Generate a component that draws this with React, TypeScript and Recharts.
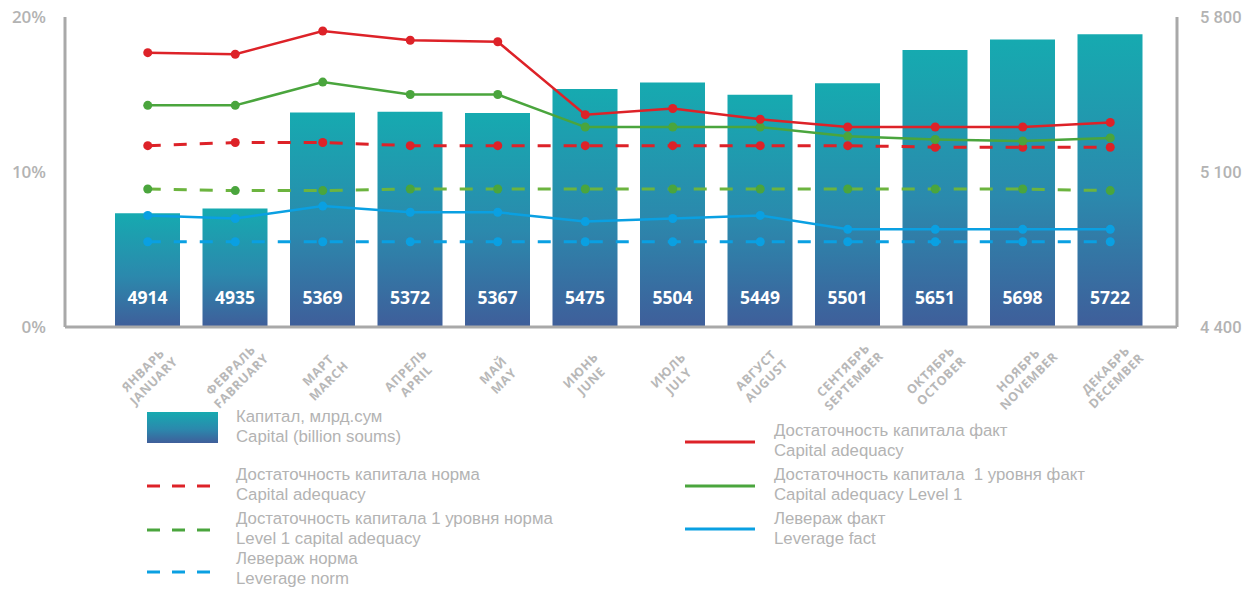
import { ComposedChart, Bar, Line, XAxis, YAxis, LabelList } from 'recharts';

const monthsRu = ['ЯНВАРЬ', 'ФЕВРАЛЬ', 'МАРТ', 'АПРЕЛЬ', 'МАЙ', 'ИЮНЬ', 'ИЮЛЬ', 'АВГУСТ', 'СЕНТЯБРЬ', 'ОКТЯБРЬ', 'НОЯБРЬ', 'ДЕКАБРЬ'];
const monthsEn = ['JANUARY', 'FABRUARY', 'MARCH', 'APRIL', 'MAY', 'JUNE', 'JULY', 'AUGUST', 'SEPTEMBER', 'OCTOBER', 'NOVEMBER', 'DECEMBER'];

const capital = [4914, 4935, 5369, 5372, 5367, 5475, 5504, 5449, 5501, 5651, 5698, 5722];
const adequacyFact = [17.7, 17.6, 19.1, 18.5, 18.4, 13.7, 14.1, 13.4, 12.9, 12.9, 12.9, 13.2];
const adequacyNorm = [11.7, 11.9, 11.9, 11.7, 11.7, 11.7, 11.7, 11.7, 11.7, 11.6, 11.6, 11.6];
const level1Fact = [14.3, 14.3, 15.8, 15.0, 15.0, 12.9, 12.9, 12.9, 12.3, 12.1, 12.0, 12.2];
const level1Norm = [8.9, 8.8, 8.8, 8.9, 8.9, 8.9, 8.9, 8.9, 8.9, 8.9, 8.9, 8.8];
const leverageFact = [7.2, 7.0, 7.8, 7.4, 7.4, 6.8, 7.0, 7.2, 6.3, 6.3, 6.3, 6.3];
const leverageNorm = [5.5, 5.5, 5.5, 5.5, 5.5, 5.5, 5.5, 5.5, 5.5, 5.5, 5.5, 5.5];

const pctTicks = [0, 10, 20];
const capTicks = [4400, 5100, 5800];

const RED = '#dd2228';
const GREEN = '#4aa53d';
const GREEN_DASH = '#6cb43f';
const BLUE = '#0aa0e2';
const GRAY_TEXT = '#b3b3b3';
const AXIS = '#a9a9a9';

const data = monthsRu.map((ru, i) => ({
  ru,
  en: monthsEn[i],
  capital: capital[i],
  adequacyFact: adequacyFact[i],
  adequacyNorm: adequacyNorm[i],
  level1Fact: level1Fact[i],
  level1Norm: level1Norm[i],
  leverageFact: leverageFact[i],
  leverageNorm: leverageNorm[i],
}));

const MonthTick = (props: any) => {
  const { x, y, payload } = props;
  const d = data.find((r) => r.ru === payload.value);
  return (
    <g transform={`translate(${x + 2},${y + 50}) rotate(-45)`}>
      <text textAnchor="middle" fill="#b8b8b8" fontSize={12.5} fontWeight={700} letterSpacing={0.6} fontFamily="'Open Sans', sans-serif">
        <tspan x={0} dy={-5}>{payload.value}</tspan>
        <tspan x={0} dy={15}>{d ? d.en : ''}</tspan>
      </text>
    </g>
  );
};

const BarValue = (props: any) => {
  const { x, y, width, height, value } = props;
  return (
    <text
      x={x + width / 2}
      y={y + height - 30}
      fill="#fff"
      fontSize={17.5}
      fontWeight={700}
      fontFamily="'Open Sans', sans-serif"
      textAnchor="middle"
      dominantBaseline="central"
    >
      {value}
    </text>
  );
};

const dot = (c: string) => ({ r: 4.5, fill: c, stroke: c, strokeWidth: 0 });

const legendText: React.CSSProperties = {
  position: 'absolute',
  fontFamily: "'Liberation Sans', Arial, sans-serif",
  fontSize: 16.8,
  lineHeight: '20px',
  color: GRAY_TEXT,
  whiteSpace: 'pre',
};

function LegendLine({ left, top, color, dashed }: { left: number; top: number; color: string; dashed?: boolean }) {
  return (
    <svg style={{ position: 'absolute', left, top: top - 2 }} width={72} height={4}>
      <line x1={0} y1={2} x2={dashed ? 64 : 70} y2={2} stroke={color} strokeWidth={3} strokeDasharray={dashed ? '13 12' : undefined} />
    </svg>
  );
}

function LegendItem({ top, textLeft, ru, en, children }: any) {
  return (
    <>
      {children}
      <div style={{ ...legendText, left: textLeft, top }}>
        {ru}
        {'\n'}
        {en}
      </div>
    </>
  );
}

export default function App() {
  return (
    <div style={{ position: 'absolute', left: 0, top: 0, width: 1249, height: 590, background: '#fff', overflow: 'hidden' }}>
      <ComposedChart width={1249} height={420} data={data} margin={{ top: 17, right: 0, bottom: 0, left: 15 }} barSize={65}>
        <defs>
          <linearGradient id="capGrad" x1="0" y1="0" x2="0" y2="1">
            <stop offset="0%" stopColor="#16aab0" />
            <stop offset="55%" stopColor="#2b89ad" />
            <stop offset="100%" stopColor="#3f5e9a" />
          </linearGradient>
        </defs>
        <XAxis
          dataKey="ru"
          interval={0}
          tick={<MonthTick />}
          tickLine={false}
          tickSize={0}
          tickMargin={0}
          height={93}
          padding={{ left: 39, right: 23 }}
          axisLine={{ stroke: AXIS, strokeWidth: 3 }}
        />
        <YAxis
          yAxisId="pct"
          domain={[0, 20]}
          ticks={pctTicks}
          width={50}
          tickLine={false}
          tickSize={0}
          tickMargin={19}
          tickFormatter={(v) => `${v}%`}
          tick={{ fill: GRAY_TEXT, fontSize: 17, fontWeight: 600, fontFamily: "'Open Sans', sans-serif" }}
          axisLine={{ stroke: AXIS, strokeWidth: 3 }}
        />
        <YAxis
          yAxisId="cap"
          orientation="right"
          domain={[4400, 5800]}
          ticks={capTicks}
          width={72}
          tickLine={false}
          tickSize={0}
          tickMargin={23}
          tickFormatter={(v) => `${String(v).slice(0, 1)} ${String(v).slice(1)}`}
          tick={{ fill: GRAY_TEXT, fontSize: 16.5, fontWeight: 500, fontFamily: 'Roboto, sans-serif', textAnchor: 'start' }}
          axisLine={{ stroke: AXIS, strokeWidth: 3 }}
        />
        <Bar yAxisId="cap" dataKey="capital" fill="url(#capGrad)" isAnimationActive={false}>
          <LabelList dataKey="capital" content={<BarValue />} />
        </Bar>
        <Line yAxisId="pct" dataKey="leverageNorm" stroke={BLUE} strokeWidth={3} strokeDasharray="13 13" dot={dot(BLUE)} activeDot={false} isAnimationActive={false} />
        <Line yAxisId="pct" dataKey="level1Norm" stroke={GREEN_DASH} strokeWidth={3} strokeDasharray="13 13" dot={dot(GREEN)} activeDot={false} isAnimationActive={false} />
        <Line yAxisId="pct" dataKey="adequacyNorm" stroke={RED} strokeWidth={3} strokeDasharray="13 13" dot={dot(RED)} activeDot={false} isAnimationActive={false} />
        <Line yAxisId="pct" dataKey="leverageFact" stroke={BLUE} strokeWidth={2.5} dot={dot(BLUE)} activeDot={false} isAnimationActive={false} />
        <Line yAxisId="pct" dataKey="level1Fact" stroke={GREEN} strokeWidth={2.5} dot={dot(GREEN)} activeDot={false} isAnimationActive={false} />
        <Line yAxisId="pct" dataKey="adequacyFact" stroke={RED} strokeWidth={2.5} dot={dot(RED)} activeDot={false} isAnimationActive={false} />
      </ComposedChart>

      <div
        style={{
          position: 'absolute',
          left: 147,
          top: 412,
          width: 71,
          height: 31,
          background: 'linear-gradient(#16aab0, #2b89ad 55%, #3f5e9a)',
        }}
      />
      <LegendItem textLeft={236} top={407} ru="Капитал, млрд.сум" en="Capital (billion soums)" />

      <LegendItem textLeft={236} top={465} ru="Достаточность капитала норма" en="Capital adequacy">
        <LegendLine left={147} top={486} color={RED} dashed />
      </LegendItem>
      <LegendItem textLeft={236} top={509} ru="Достаточность капитала 1 уровня норма" en="Level 1 capital adequacy">
        <LegendLine left={147} top={530} color={GREEN} dashed />
      </LegendItem>
      <LegendItem textLeft={236} top={549} ru="Левераж норма" en="Leverage norm">
        <LegendLine left={147} top={572} color={BLUE} dashed />
      </LegendItem>

      <LegendItem textLeft={774} top={421} ru="Достаточность капитала факт" en="Capital adequacy">
        <LegendLine left={685} top={442} color={RED} />
      </LegendItem>
      <LegendItem textLeft={774} top={465} ru="Достаточность капитала  1 уровня факт" en="Capital adequacy Level 1">
        <LegendLine left={685} top={486} color={GREEN} />
      </LegendItem>
      <LegendItem textLeft={774} top={509} ru="Левераж факт" en="Leverage fact">
        <LegendLine left={685} top={529} color={BLUE} />
      </LegendItem>
    </div>
  );
}
